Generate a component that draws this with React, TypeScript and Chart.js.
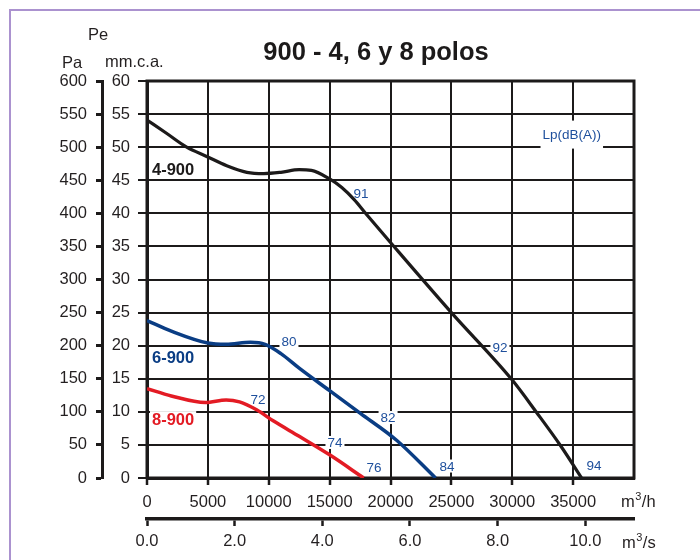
import React, { useEffect, useRef } from 'react';
import { Chart, registerables } from 'chart.js';

Chart.register(...registerables);

// ---- Data ----
const flowTicksMax = 40000; // m3/h axis end
const seriesNames = ['4-900', '6-900', '8-900'];

const flow4 = [0, 1600, 3260, 4900, 6550, 8200, 9600, 11000, 12500, 13500, 15000, 16000, 17000, 18000, 20000, 25000, 30000, 32000, 34000, 35700];
const pres4 = [54.1, 52.1, 50.0, 48.6, 47.2, 46.2, 46.0, 46.2, 46.6, 46.5, 45.2, 43.9, 42.1, 39.9, 35.6, 25.0, 14.8, 9.9, 4.8, 0];

const flow6 = [0, 2000, 5000, 6500, 8500, 9700, 11000, 12500, 15000, 17500, 20500, 23700];
const pres6 = [23.8, 22.2, 20.4, 20.2, 20.5, 20.2, 18.8, 16.6, 13.2, 9.8, 5.7, 0];

const flow8 = [0, 2000, 4800, 6500, 7600, 9000, 10400, 12500, 15000, 17800];
const pres8 = [13.5, 12.4, 11.4, 11.8, 11.5, 10.3, 8.6, 6.3, 3.5, 0];

const noise4 = ['91', '92', '94'];
const noise6 = ['80', '82', '84'];
const noise8 = ['72', '74', '76'];

const FONT = "'Liberation Sans', Arial, sans-serif";
const INK = '#1c1a1a';
const TICK_TXT = '#231f20';
const BLUE = '#0a3d84';
const RED = '#e31b24';
const LBLUE = '#1e4f9c';

// annotation anchors in data coordinates (flow m3/h, pressure mm.c.a.)
const noiseAnchors4 = [[17580, 43.1], [28990, 19.8], [36710, 1.96]];
const noiseAnchors6 = [[11660, 20.7], [19800, 9.14], [24640, 1.81]];
const noiseAnchors8 = [[9120, 11.9], [15440, 5.37], [18640, 1.59]];
const nameAnchors = [[410, 46.7], [410, 18.2], [410, 8.9]];
const lpAnchor = [34890, 51.9];

function textBox(ctx: CanvasRenderingContext2D, text: string, x: number, y: number, font: string, color: string, align: CanvasTextAlign, boxH: number) {
  ctx.save();
  ctx.font = font;
  const w = ctx.measureText(text).width;
  const left = align === 'left' ? x : x - w / 2;
  ctx.fillStyle = '#ffffff';
  ctx.fillRect(left - 2, y - boxH / 2, w + 4, boxH);
  ctx.fillStyle = color;
  ctx.textAlign = align;
  ctx.textBaseline = 'middle';
  ctx.fillText(text, x, y + 1);
  ctx.restore();
}

function unitText(ctx: CanvasRenderingContext2D, x: number, baseline: number, tail: string) {
  ctx.save();
  ctx.fillStyle = TICK_TXT;
  ctx.textBaseline = 'alphabetic';
  ctx.textAlign = 'left';
  ctx.font = `16.5px ${FONT}`;
  ctx.fillText('m', x, baseline);
  const w1 = ctx.measureText('m').width;
  ctx.font = `11px ${FONT}`;
  ctx.fillText('3', x + w1 + 0.5, baseline - 7);
  const w2 = ctx.measureText('3').width;
  ctx.font = `16.5px ${FONT}`;
  ctx.fillText(tail, x + w1 + w2 + 1, baseline);
  ctx.restore();
}

const decor = {
  id: 'decor',
  beforeDraw(chart: any) {
    const ctx = chart.ctx as CanvasRenderingContext2D;
    ctx.save();
    ctx.fillStyle = '#ffffff';
    ctx.fillRect(0, 0, chart.width, chart.height);
    ctx.strokeStyle = '#ab92cf';
    ctx.lineWidth = 2;
    ctx.beginPath();
    ctx.moveTo(10, chart.height);
    ctx.lineTo(10, 10);
    ctx.lineTo(chart.width, 10);
    ctx.stroke();
    ctx.restore();
  },
  beforeDatasetsDraw(chart: any) {
    const ctx = chart.ctx as CanvasRenderingContext2D;
    const { left, top, right, bottom } = chart.chartArea;
    ctx.save();
    ctx.strokeStyle = INK;
    ctx.lineWidth = 3;
    ctx.strokeRect(left, top, right - left, bottom - top);
    ctx.restore();
    const xs = chart.scales.x;
    const ys = chart.scales.y;
    const small = `13.5px ${FONT}`;
    const groups: [string[], number[][]][] = [[noise4, noiseAnchors4], [noise6, noiseAnchors6], [noise8, noiseAnchors8]];
    groups.forEach(([txts, anchors]) => {
      txts.forEach((t, i) => {
        textBox(ctx, t, xs.getPixelForValue(anchors[i][0]), ys.getPixelForValue(anchors[i][1]), small, LBLUE, 'center', 13);
      });
    });
    textBox(ctx, 'Lp(dB(A))', xs.getPixelForValue(lpAnchor[0]), ys.getPixelForValue(lpAnchor[1]), small, LBLUE, 'center', 28);
    const nameColors = [INK, BLUE, RED];
    seriesNames.forEach((n, i) => {
      textBox(ctx, n, xs.getPixelForValue(nameAnchors[i][0]), ys.getPixelForValue(nameAnchors[i][1]), `bold 16.5px ${FONT}`, nameColors[i], 'left', 16);
    });
  },
  afterDraw(chart: any) {
    const ctx = chart.ctx as CanvasRenderingContext2D;
    ctx.save();
    ctx.fillStyle = INK;
    ctx.textBaseline = 'alphabetic';
    ctx.textAlign = 'center';
    ctx.font = `bold 25.5px ${FONT}`;
    ctx.fillText('900 - 4, 6 y 8 polos', 376, 60);
    ctx.textAlign = 'left';
    ctx.fillStyle = TICK_TXT;
    ctx.font = `16.5px ${FONT}`;
    ctx.fillText('Pe', 88, 40);
    ctx.fillText('Pa', 62, 68);
    ctx.fillText('mm.c.a.', 105, 67);
    ctx.restore();
    unitText(ctx, 621, 507, '/h');
    unitText(ctx, 622, 548, '/s');
  },
};

export default function App() {
  const ref = useRef<HTMLCanvasElement>(null);
  useEffect(() => {
    const canvas = ref.current;
    if (!canvas) return;
    const pts = (xs: number[], ys: number[]) => xs.map((x, i) => ({ x, y: ys[i] }));
    const tickFont = { family: FONT, size: 16.5 };
    const chart = new Chart(canvas, {
      type: 'scatter',
      data: {
        datasets: [
          { label: seriesNames[0], data: pts(flow4, pres4), borderColor: INK, borderWidth: 3.2, showLine: true, pointRadius: 0, cubicInterpolationMode: 'monotone', xAxisID: 'x', yAxisID: 'y' } as any,
          { label: seriesNames[1], data: pts(flow6, pres6), borderColor: BLUE, borderWidth: 3.5, showLine: true, pointRadius: 0, cubicInterpolationMode: 'monotone', xAxisID: 'x', yAxisID: 'y' } as any,
          { label: seriesNames[2], data: pts(flow8, pres8), borderColor: RED, borderWidth: 3.5, showLine: true, pointRadius: 0, cubicInterpolationMode: 'monotone', xAxisID: 'x', yAxisID: 'y' } as any,
        ],
      },
      options: {
        responsive: false,
        animation: false,
        layout: { padding: { left: 0, top: 81, right: 66, bottom: 0 } },
        plugins: { legend: { display: false }, tooltip: { enabled: false }, title: { display: false } },
        scales: {
          x: {
            type: 'linear', position: 'bottom', weight: 0, min: 0, max: flowTicksMax,
            afterFit: (s: any) => { s.height = 41; },
            ticks: { stepSize: 5000, autoSkip: false, maxRotation: 0, padding: 8, color: TICK_TXT, font: tickFont,
              callback: (v: any) => (Number(v) === flowTicksMax ? '' : String(v)) },
            grid: { color: INK, lineWidth: 2, tickLength: 7, tickWidth: 2.5,
              tickColor: (c: any) => (c.tick && c.tick.value === flowTicksMax ? 'rgba(0,0,0,0)' : INK) },
            border: { display: true, width: 3, color: INK },
          },
          x2: {
            type: 'linear', position: 'bottom', weight: 1, min: 0, max: flowTicksMax / 3600,
            afterFit: (s: any) => { s.height = 41; },
            ticks: { stepSize: 2, includeBounds: false, autoSkip: false, maxRotation: 0, padding: 6, color: TICK_TXT, font: tickFont,
              callback: (v: any) => Number(v).toFixed(1) },
            grid: { drawOnChartArea: false, tickLength: 7, tickWidth: 2.5, tickColor: INK },
            border: { display: true, width: 3.5, color: INK },
          },
          y: {
            type: 'linear', position: 'left', weight: 0, min: 0, max: 60,
            afterFit: (s: any) => { s.width = 45; },
            ticks: { stepSize: 5, padding: 8, color: TICK_TXT, font: tickFont },
            grid: { color: INK, lineWidth: 2, tickLength: 9, tickWidth: 2, tickColor: INK },
            border: { display: true, width: 3, color: INK },
          },
          yPa: {
            type: 'linear', position: 'left', weight: 1, min: 0, max: 600,
            afterFit: (s: any) => { s.width = 102; },
            ticks: { stepSize: 50, padding: 9, color: TICK_TXT, font: tickFont },
            grid: { drawOnChartArea: false, tickLength: 6, tickWidth: 3, tickColor: INK },
            border: { display: true, width: 3, color: INK },
          },
        },
      } as any,
      plugins: [decor],
    });
    return () => chart.destroy();
  }, []);
  return <canvas ref={ref} width={700} height={560} style={{ position: 'absolute', left: 0, top: 0 }} />;
}
